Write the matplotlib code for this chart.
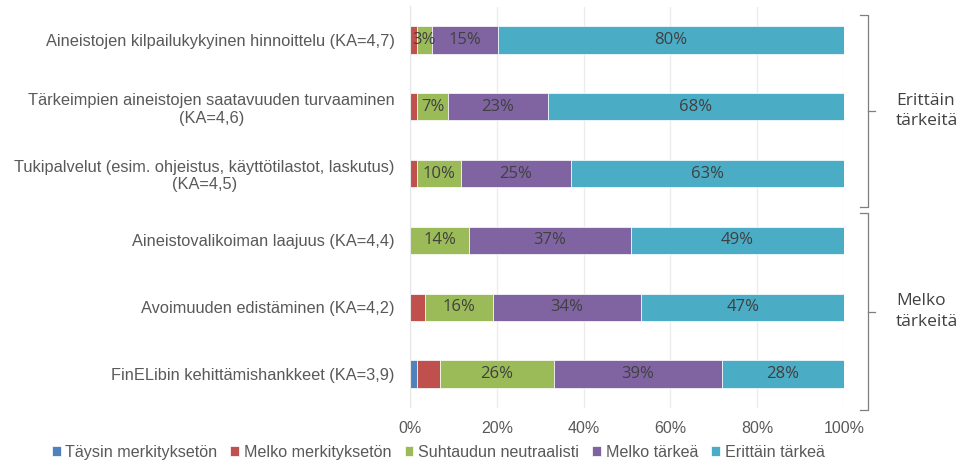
import numpy as np
import matplotlib.pyplot as plt

categories = [
    "Aineistojen kilpailukykyinen hinnoittelu (KA=4,7)",
    "Tärkeimpien aineistojen saatavuuden turvaaminen\n(KA=4,6)",
    "Tukipalvelut (esim. ohjeistus, käyttötilastot, laskutus)\n(KA=4,5)",
    "Aineistovalikoiman laajuus (KA=4,4)",
    "Avoimuuden edistäminen (KA=4,2)",
    "FinELibin kehittämishankkeet (KA=3,9)",
]
series_names = ["Täysin merkityksetön", "Melko merkityksetön",
                "Suhtaudun neutraalisti", "Melko tärkeä", "Erittäin tärkeä"]
taysin = [0.0, 0.0, 0.0, 0.0, 0.0, 1.5]
melko_merk = [1.6, 1.7, 1.6, 0.0, 3.4, 5.3]
neutraali = [3.4, 7.1, 10.1, 13.6, 15.7, 26.3]
melko_tark = [15.2, 22.9, 25.3, 37.3, 34.2, 38.7]
erittain = [79.8, 68.3, 63.0, 49.1, 46.7, 28.2]
groups = ["Erittäin\ntärkeitä", "Melko\ntärkeitä"]

colors = ["#4F81BD", "#C0504D", "#9BBB59", "#8064A2", "#4BACC6"]
labelled = [False, False, True, True, True]

fig = plt.figure(figsize=(9.6, 4.61), dpi=100)
ax = fig.add_axes([410 / 960, 1 - 407.5 / 461, 434 / 960, 401 / 461])

y = np.arange(len(categories))
left = np.zeros(len(categories))
for vals, name, col, lab in zip([taysin, melko_merk, neutraali, melko_tark, erittain],
                                series_names, colors, labelled):
    vals = np.array(vals)
    ax.barh(y, vals, left=left, height=0.41, color=col, label=name,
            edgecolor="#ffffff", linewidth=0.5)
    if lab:
        for yi, l, v in zip(y, left, vals):
            if v > 0:
                ax.text(l + v / 2, yi, f"{round(v)}%", ha="center", va="center",
                        fontsize=12, color="#404040", family="Open Sans")
    left += vals

ax.set_xlim(0, 100)
ax.set_ylim(len(categories) - 0.5, -0.5)
ax.set_yticks(y)
ax.set_yticklabels(categories, fontsize=11.8, color="#595959", family="Liberation Sans",
                   multialignment="center")
ax.set_xticks(range(0, 101, 20))
ax.set_xticklabels([f"{t}%" for t in range(0, 101, 20)], fontsize=11.5,
                   color="#595959", family="Liberation Sans")
ax.tick_params(length=0, pad=11)
ax.tick_params(axis="x", pad=10)
ax.grid(axis="x", color="#ececec", linewidth=1)
ax.set_axisbelow(True)
for s in ["top", "right", "bottom"]:
    ax.spines[s].set_visible(False)
ax.spines["left"].set_color("#e6e6e6")

# braces on the right
brace_spans = [(-0.37, 2.5), (2.59, 5.54)]
for (y0, y1), g in zip(brace_spans, groups):
    kw = dict(color="#7f7f7f", linewidth=0.9, clip_on=False, transform=ax.transData)
    ax.plot([103.8, 105.5, 105.5, 103.8], [y0, y0, y1, y1], **kw)
    ym = (y0 + y1) / 2
    ax.plot([105.5, 107.2], [ym, ym], **kw)
    ax.text(112, ym, g, ha="left", va="center", fontsize=12.5, color="#404040",
            family="Open Sans", clip_on=False, linespacing=1.4)

ax.legend(loc="center", bbox_to_anchor=(0.065, -0.111), ncol=5, frameon=False,
          handlelength=0.55, handleheight=0.55, handletextpad=0.3,
          columnspacing=0.8, labelcolor="#595959", borderpad=0.1,
          prop={"family": "Liberation Sans", "size": 11.6})

fig.savefig("out.png", dpi=100)
